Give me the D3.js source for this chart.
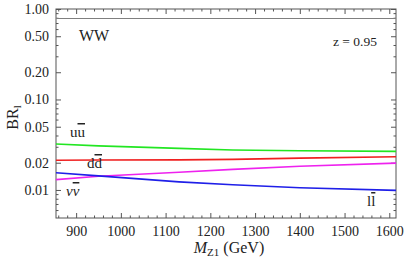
<!DOCTYPE html>
<html>
<head>
<meta charset="utf-8">
<script src="https://cdn.jsdelivr.net/npm/d3@7"></script>
<style>
  body { margin: 0; background: #fff; }
  svg text { font-family: "Liberation Serif", serif !important; }
</style>
</head>
<body>
<div id="chart"></div>
<script>
// size
const WIDTH = 409;
const HEIGHT = 259;
const MARGIN = { TOP: 9, RIGHT: 13, BOTTOM: 41, LEFT: 56 };
const SERIF = "'Liberation Serif'";

// data
const masses = [855, 950, 1130, 1250, 1400, 1615];
const brWW = [0.785, 0.785, 0.785, 0.785, 0.785, 0.785];
const brUU = [0.0322, 0.0307, 0.0288, 0.0277, 0.0271, 0.0267];
const brDD = [0.0213, 0.0214, 0.0215, 0.0218, 0.0225, 0.0233];
const brNN = [0.0130, 0.0142, 0.0157, 0.0169, 0.0183, 0.0198];
const brLL = [0.0155, 0.0143, 0.0123, 0.0114, 0.0106, 0.0099];

const xTicks = [900, 1000, 1100, 1200, 1300, 1400, 1500, 1600];
const yTicks = [0.01, 0.02, 0.05, 0.1, 0.2, 0.5, 1.0];
const yMinor = [0.006, 0.007, 0.008, 0.009, 0.03, 0.04, 0.06, 0.07, 0.08, 0.09,
                0.3, 0.4, 0.6, 0.7, 0.8, 0.9];

const series = [
  { name: "WW", values: brWW, color: "#7f7f7f" },
  { name: "uu", values: brUU, color: "#22e622" },
  { name: "dd", values: brDD, color: "#f02020" },
  { name: "nn", values: brNN, color: "#ee22ee" },
  { name: "ll", values: brLL, color: "#1f1fe8" }
];

let svg = d3.select("#chart").append("svg")
    .attr("width", WIDTH)
    .attr("height", HEIGHT)
    .attr("font-family", SERIF);

let xScale = d3.scaleLinear()
    .domain([855, 1615])
    .range([MARGIN.LEFT, WIDTH - MARGIN.RIGHT]);

let yScale = d3.scaleLog()
    .domain([0.0049, 1.0])
    .range([HEIGHT - MARGIN.BOTTOM, MARGIN.TOP]);

const x0 = MARGIN.LEFT, x1 = WIDTH - MARGIN.RIGHT;
const y0 = HEIGHT - MARGIN.BOTTOM, y1 = MARGIN.TOP;
const fmt = d3.format(".2f");
const axisColor = "#555";

// ticks inward on all four sides
let xMinor = d3.range(860, 1620, 20).filter(d => d % 100 != 0);

let xAxisB = d3.axisBottom(xScale).tickValues(xTicks).tickSize(-5).tickPadding(8).tickFormat(d3.format("d"));
let xAxisT = d3.axisTop(xScale).tickValues(xTicks).tickSize(-5).tickFormat("");
let yAxisL = d3.axisLeft(yScale).tickValues(yTicks).tickSize(-5).tickPadding(7).tickFormat(fmt);
let yAxisR = d3.axisRight(yScale).tickValues(yTicks).tickSize(-5).tickFormat("");

function styleAxis(g) {
  g.attr("font-family", SERIF).attr("font-size", 14);
  g.select(".domain").remove();
  g.selectAll("line").attr("stroke", axisColor);
  g.selectAll("text").attr("fill", "#222");
}

svg.append("g").attr("transform", `translate(0,${y0})`).call(xAxisB).call(styleAxis);
svg.append("g").attr("transform", `translate(0,${y1})`).call(xAxisT).call(styleAxis);
svg.append("g").attr("transform", `translate(${x0},0)`).call(yAxisL).call(styleAxis);
svg.append("g").attr("transform", `translate(${x1},0)`).call(yAxisR).call(styleAxis);

svg.append("g").attr("transform", `translate(0,${y0})`)
  .call(d3.axisBottom(xScale).tickValues(xMinor).tickSize(-2.5).tickFormat("")).call(styleAxis);
svg.append("g").attr("transform", `translate(0,${y1})`)
  .call(d3.axisTop(xScale).tickValues(xMinor).tickSize(-2.5).tickFormat("")).call(styleAxis);
svg.append("g").attr("transform", `translate(${x0},0)`)
  .call(d3.axisLeft(yScale).tickValues(yMinor).tickSize(-2.5).tickFormat("")).call(styleAxis);
svg.append("g").attr("transform", `translate(${x1},0)`)
  .call(d3.axisRight(yScale).tickValues(yMinor).tickSize(-2.5).tickFormat("")).call(styleAxis);

// frame
svg.append("rect")
  .attr("x", x0).attr("y", y1)
  .attr("width", x1 - x0).attr("height", y0 - y1)
  .attr("fill", "none").attr("stroke", axisColor).attr("stroke-width", 1);

// curves
svg.append("clipPath").attr("id", "clip")
  .append("rect").attr("x", x0).attr("y", y1).attr("width", x1 - x0).attr("height", y0 - y1);

let line = d3.line()
  .x((d, i) => xScale(masses[i]))
  .y(d => yScale(d));

svg.append("g").attr("clip-path", "url(#clip)")
  .selectAll("path")
  .data(series)
  .join("path")
  .attr("d", d => line(d.values))
  .attr("fill", "none")
  .attr("stroke", d => d.color)
  .attr("stroke-width", d => d.name == "WW" ? 1.2 : 1.6);

// in-plot labels
svg.append("text").attr("x", 79).attr("y", 41).attr("font-size", 16).attr("fill", "#222").text("WW");
svg.append("text").attr("x", 333).attr("y", 46).attr("font-size", 13.5).attr("fill", "#222").text("z = 0.95");

function pairLabel(x, y, a, italic) {
  let t = svg.append("text").attr("x", x).attr("y", y).attr("font-size", 15).attr("fill", "#222");
  if (italic) t.attr("font-style", "italic");
  t.append("tspan").text(a);
  t.append("tspan").attr("text-decoration", "overline").text(a);
}
pairLabel(70, 137, "u");
pairLabel(87, 168, "d");
pairLabel(66, 196, "ν", true);
pairLabel(367, 206, "l");

// axis titles
svg.append("text")
  .attr("transform", `translate(18,${(y0 + y1) / 2 + 4}) rotate(-90)`)
  .attr("text-anchor", "middle")
  .attr("font-size", 16)
  .attr("fill", "#222")
  .call(t => {
    t.append("tspan").text("BR");
    t.append("tspan").attr("font-size", 11).attr("dy", 3).text("l");
  });

svg.append("text")
  .attr("x", (x0 + x1) / 2 + 3)
  .attr("y", 253)
  .attr("text-anchor", "middle")
  .attr("font-size", 16)
  .attr("fill", "#222")
  .call(t => {
    t.append("tspan").attr("font-style", "italic").text("M");
    t.append("tspan").attr("font-size", 11).attr("dy", 3).text("Z1");
    t.append("tspan").attr("dy", -3).text(" (GeV)");
  });
</script>
</body>
</html>
